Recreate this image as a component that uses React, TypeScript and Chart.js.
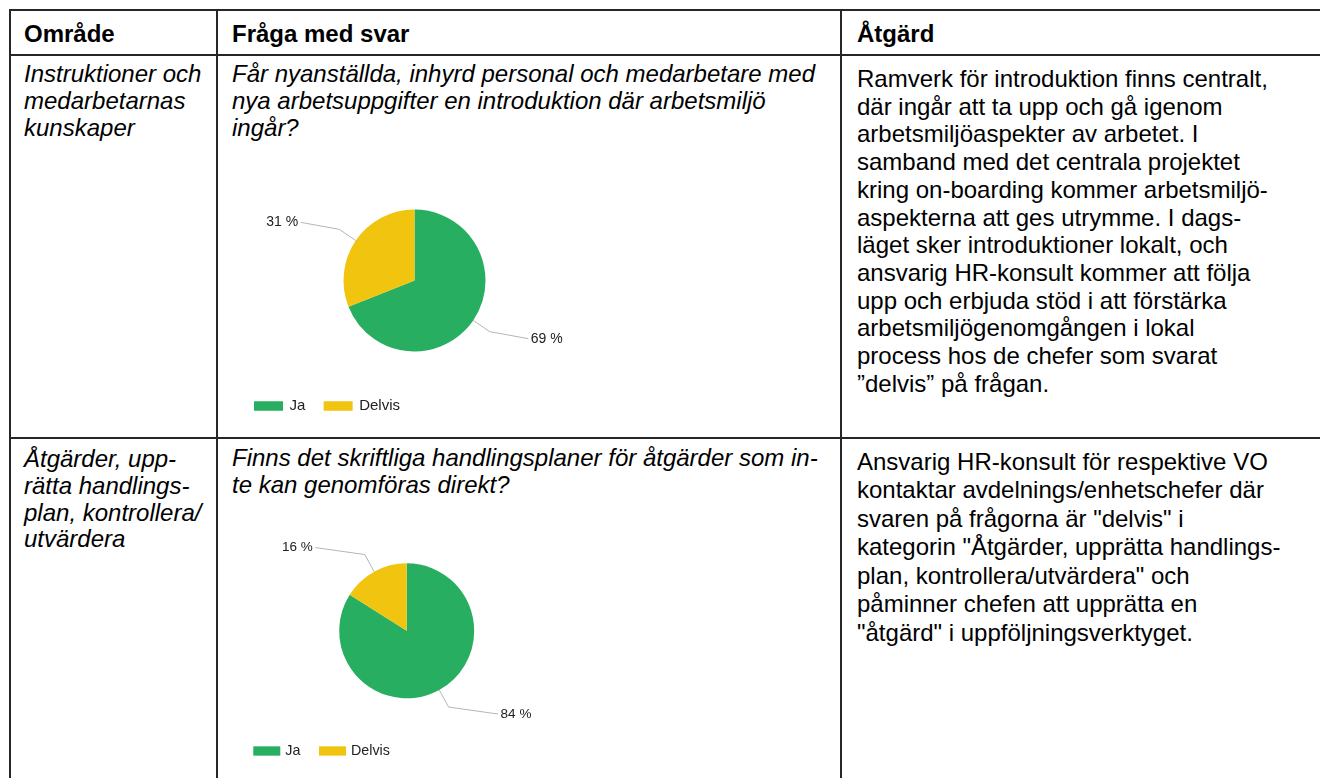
import React, { useEffect, useRef } from "react";
import { Chart, registerables } from "chart.js";

Chart.register(...registerables);

// ---------- data ----------
const answerLabels = ["Ja", "Delvis"];
const q1Values = [69, 31];
const q2Values = [84, 16];
const sliceColors = ["#27AE60", "#F1C40F"];

const headerTexts = ["Område", "Fråga med svar", "Åtgärd"];

const area1Lines = ["Instruktioner och", "medarbetarnas", "kunskaper"];
const question1Lines = [
  "Får nyanställda, inhyrd personal och medarbetare med",
  "nya arbetsuppgifter en introduktion där arbetsmiljö",
  "ingår?",
];
const action1Lines = [
  "Ramverk för introduktion finns centralt,",
  "där ingår att ta upp och gå igenom",
  "arbetsmiljöaspekter av arbetet. I",
  "samband med det centrala projektet",
  "kring on-boarding kommer arbetsmiljö-",
  "aspekterna att ges utrymme. I dags-",
  "läget sker introduktioner lokalt, och",
  "ansvarig HR-konsult kommer att följa",
  "upp och erbjuda stöd i att förstärka",
  "arbetsmiljögenomgången i lokal",
  "process hos de chefer som svarat",
  "”delvis” på frågan.",
];

const area2Lines = ["Åtgärder, upp-", "rätta handlings-", "plan, kontrollera/", "utvärdera"];
const question2Lines = [
  "Finns det skriftliga handlingsplaner för åtgärder som in-",
  "te kan genomföras direkt?",
];
const action2Lines = [
  "Ansvarig HR-konsult för respektive VO",
  "kontaktar avdelnings/enhetschefer där",
  "svaren på frågorna är \"delvis\" i",
  "kategorin \"Åtgärder, upprätta handlings-",
  "plan, kontrollera/utvärdera\" och",
  "påminner chefen att upprätta en",
  "\"åtgärd\" i uppföljningsverktyget.",
];

const FONT = '"Liberation Sans", Arial, sans-serif';

// ---------- plugins ----------
const outLabelsPlugin = {
  id: "outLabels",
  afterDatasetsDraw(chart: any, _args: any, opts: any) {
    const ctx = chart.ctx;
    const meta = chart.getDatasetMeta(0);
    const values = chart.data.datasets[0].data;
    ctx.save();
    meta.data.forEach((arc: any, i: number) => {
      const p = arc.getProps(["x", "y", "startAngle", "endAngle", "outerRadius"], true);
      const mid = (p.startAngle + p.endAngle) / 2;
      const c = Math.cos(mid);
      const s = Math.sin(mid);
      const r = p.outerRadius;
      const x0 = p.x + c * r;
      const y0 = p.y + s * r;
      const x1 = p.x + c * (r + opts.elbow);
      const y1 = p.y + s * (r + opts.elbow);
      const side = c >= 0 ? 1 : -1;
      const vs = s >= 0 ? 1 : -1;
      const x2 = x1 + side * opts.run;
      const y2 = y1 + vs * opts.rise;
      ctx.strokeStyle = opts.lineColor;
      ctx.lineWidth = 1;
      ctx.beginPath();
      ctx.moveTo(x0, y0);
      ctx.lineTo(x1, y1);
      ctx.lineTo(x2, y2);
      ctx.stroke();
      ctx.font = `${opts.fontSize}px ${FONT}`;
      ctx.fillStyle = opts.color;
      ctx.textAlign = side > 0 ? "left" : "right";
      ctx.textBaseline = "middle";
      ctx.fillText(`${values[i]} %`, x2 + side * opts.gap, y2);
    });
    ctx.restore();
  },
};

const boxLegendPlugin = {
  id: "boxLegend",
  afterDraw(chart: any, _args: any, opts: any) {
    const ctx = chart.ctx;
    const colors = chart.data.datasets[0].backgroundColor;
    ctx.save();
    ctx.font = `${opts.fontSize}px ${FONT}`;
    ctx.textAlign = "left";
    ctx.textBaseline = "middle";
    let cx = opts.x;
    chart.data.labels.forEach((lab: string, i: number) => {
      ctx.fillStyle = colors[i];
      ctx.fillRect(cx, opts.y - opts.boxH / 2, opts.boxW, opts.boxH);
      cx += opts.boxW + opts.textGap;
      ctx.fillStyle = opts.color;
      ctx.fillText(lab, cx, opts.y);
      cx += ctx.measureText(lab).width + opts.itemGap;
    });
    ctx.restore();
  },
};

// ---------- components ----------
function PieChart(props: {
  values: number[];
  left: number;
  top: number;
  width: number;
  height: number;
  padding: { left: number; top: number; right: number; bottom: number };
  radius: number;
  labelOpts: any;
  legendOpts: any;
}) {
  const ref = useRef<HTMLCanvasElement | null>(null);
  useEffect(() => {
    if (!ref.current) return;
    const chart = new Chart(ref.current, {
      type: "pie",
      data: {
        labels: answerLabels,
        datasets: [
          {
            data: props.values,
            backgroundColor: sliceColors,
            borderWidth: 0,
            hoverOffset: 0,
            offset: 0,
            radius: props.radius,
          } as any,
        ],
      },
      options: {
        responsive: false,
        animation: false,
        events: [],
        layout: { padding: props.padding },
        plugins: {
          legend: { display: false },
          tooltip: { enabled: false },
          outLabels: props.labelOpts,
          boxLegend: props.legendOpts,
        } as any,
      },
      plugins: [outLabelsPlugin, boxLegendPlugin],
    });
    return () => chart.destroy();
  }, []);
  return (
    <canvas
      ref={ref}
      width={props.width}
      height={props.height}
      style={{ position: "absolute", left: props.left, top: props.top, width: props.width, height: props.height }}
    />
  );
}

function TextBlock(props: {
  x: number;
  y: number;
  lines: string[];
  size: number;
  lh: number;
  italic?: boolean;
  bold?: boolean;
}) {
  return (
    <div
      style={{
        position: "absolute",
        left: props.x,
        top: props.y,
        fontFamily: FONT,
        fontSize: props.size,
        lineHeight: `${props.lh}px`,
        fontStyle: props.italic ? "italic" : "normal",
        fontWeight: props.bold ? 700 : 400,
        whiteSpace: "pre",
        color: "#000",
      }}
    >
      {props.lines.map((l, i) => (
        <div key={i}>{l}</div>
      ))}
    </div>
  );
}

function Line(props: { x: number; y: number; w: number; h: number }) {
  return (
    <div
      style={{
        position: "absolute",
        left: props.x,
        top: props.y,
        width: props.w,
        height: props.h,
        background: "#262626",
      }}
    />
  );
}

export default function App() {
  return (
    <div style={{ position: "relative", width: 1320, height: 778, overflow: "hidden", background: "#fff" }}>
      <style>{"body{margin:0;background:#fff;}"}</style>

      {/* grid lines */}
      <Line x={9} y={9} w={1330} h={2} />
      <Line x={9} y={54} w={1330} h={2} />
      <Line x={9} y={437} w={1330} h={2} />
      <Line x={9} y={9} w={2} h={800} />
      <Line x={216} y={9} w={2} h={800} />
      <Line x={840} y={9} w={2} h={800} />

      {/* header */}
      <TextBlock x={24} y={21.4} lines={[headerTexts[0]]} size={24} lh={26} bold />
      <TextBlock x={232} y={21.4} lines={[headerTexts[1]]} size={24} lh={26} bold />
      <TextBlock x={857} y={21.4} lines={[headerTexts[2]]} size={24} lh={26} bold />

      {/* row 1 */}
      <TextBlock x={24} y={59.5} lines={area1Lines} size={24} lh={27.3} italic />
      <TextBlock x={232} y={59.5} lines={question1Lines} size={24} lh={27.3} italic />
      <TextBlock x={857} y={65} lines={action1Lines} size={24} lh={27.7} />

      {/* row 2 */}
      <TextBlock x={24} y={446} lines={area2Lines} size={24} lh={26.8} italic />
      <TextBlock x={232} y={445} lines={question2Lines} size={24} lh={26.8} italic />
      <TextBlock x={857} y={447.5} lines={action2Lines} size={24} lh={28.5} />

      <PieChart
        values={q1Values}
        left={230}
        top={180}
        width={390}
        height={245}
        padding={{ left: 113.5, top: 29.5, right: 134.5, bottom: 73.5 }}
        radius={71}
        labelOpts={{ elbow: 20, run: 38.5, rise: 7, gap: 2.5, fontSize: 14, color: "#222", lineColor: "#b5b5b5" }}
        legendOpts={{ x: 24, y: 226, boxW: 29, boxH: 9.5, textGap: 6.5, itemGap: 18.3, fontSize: 15, color: "#222" }}
      />
      <PieChart
        values={q2Values}
        left={230}
        top={525}
        width={390}
        height={245}
        padding={{ left: 109.2, top: 38.3, right: 145.8, bottom: 71.7 }}
        radius={67.5}
        labelOpts={{ elbow: 19.5, run: 49.5, rise: 7, gap: 2.5, fontSize: 13.5, color: "#222", lineColor: "#b5b5b5" }}
        legendOpts={{ x: 23.3, y: 226, boxW: 27, boxH: 9.3, textGap: 5, itemGap: 18.6, fontSize: 14.3, color: "#222" }}
      />
    </div>
  );
}
